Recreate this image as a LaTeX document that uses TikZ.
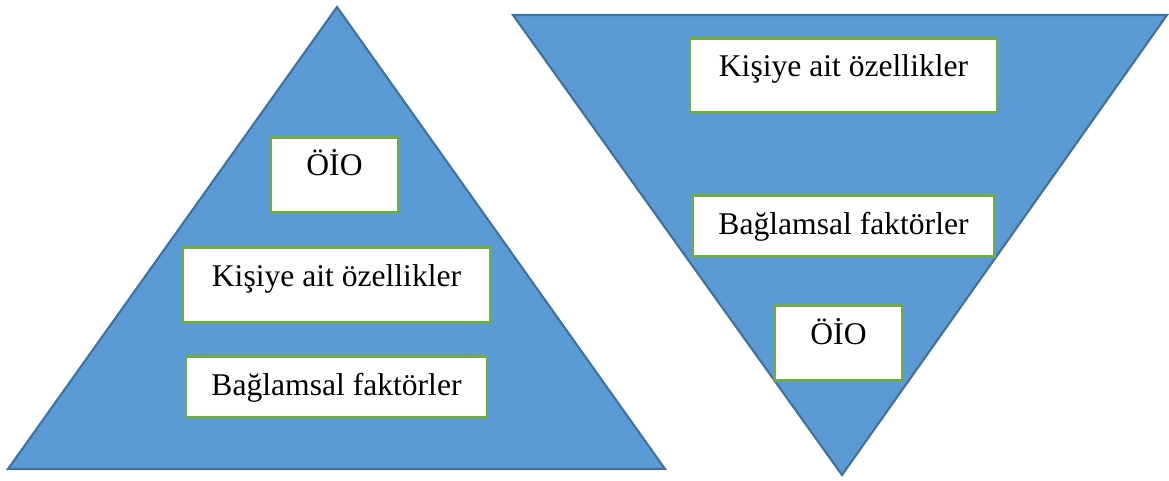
\documentclass[tikz,border=0pt]{standalone}
\usepackage{fontspec}
\setmainfont{Liberation Serif}
\usepackage{xcolor}
\definecolor{triblue}{HTML}{5B9BD5}
\definecolor{triedge}{HTML}{41719C}
\definecolor{boxgreen}{HTML}{70AD47}
\usepackage{tikz}
\usetikzlibrary{positioning}

\begin{document}
\begin{tikzpicture}[x=0.75pt, y=-0.75pt,
  tri/.style={fill=triblue, draw=triedge, line width=1.6pt, line join=miter},
  box/.style={draw=boxgreen, fill=white, line width=2.2pt, outer sep=0pt,
              inner xsep=0pt, inner ysep=0pt, text height=29pt, text depth=#1,
              font=\fontsize{23.7}{28}\selectfont}]

  \useasboundingbox (0,0) rectangle (1169,480);

  % pyramid
  \coordinate (ltop) at (337,7);
  \coordinate (lleft) at (8,469);
  \coordinate (lright) at (665,469);
  \draw[tri] (ltop) -- (lright) -- (lleft) -- cycle;

  % inverted pyramid
  \coordinate (rleft) at (513,15);
  \coordinate (rright) at (1167,15);
  \coordinate (rbot) at (842,475);
  \draw[tri] (rleft) -- (rright) -- (rbot) -- cycle;

  \node[box=27.75pt, minimum width=95.25pt] (oioL) at (334.5,175) {ÖİO};
  \node[box=27pt, minimum width=230.25pt, below=26.25pt of oioL, xshift=1.5pt] (kisiL)
        {Kişiye ait özellikler};
  \node[box=16.75pt, minimum width=225.75pt, below=25.5pt of kisiL] (baglamL)
        {Bağlamsal faktörler};

  \node[box=27pt, minimum width=230.25pt] (kisiR) at (843.5,75.5)
        {Kişiye ait özellikler};
  \node[box=16.75pt, minimum width=226.5pt, below=62.25pt of kisiR] (baglamR)
        {Bağlamsal faktörler};
  \node[box=27pt, minimum width=96pt, below=36.75pt of baglamR, xshift=-3.75pt] (oioR) {ÖİO};

\end{tikzpicture}
\end{document}
